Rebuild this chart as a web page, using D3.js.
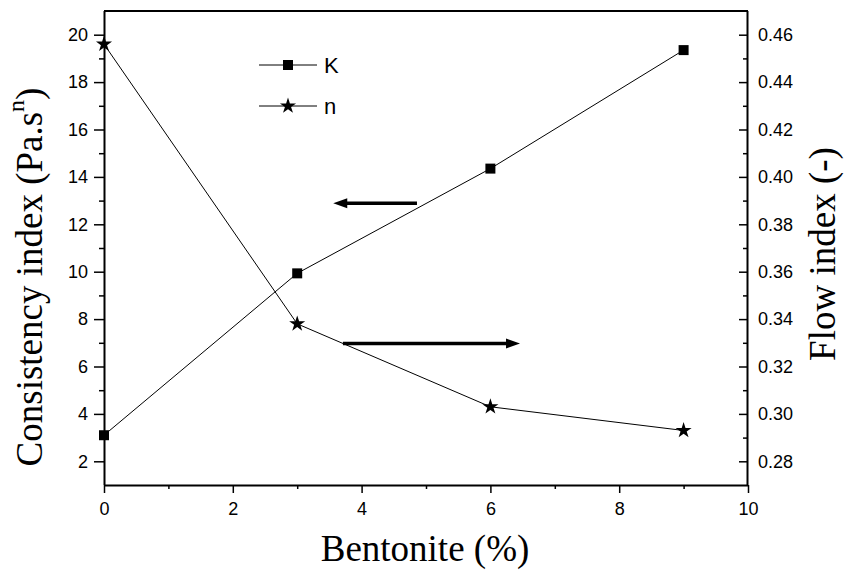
<!DOCTYPE html>
<html>
<head>
<meta charset="utf-8">
<script src="https://cdn.jsdelivr.net/npm/d3@7"></script>
<style>
  html, body { margin: 0; padding: 0; background: #fff; }
  svg { display: block; }
</style>
</head>
<body>
<svg id="chart" width="845" height="571"></svg>
<script>
// ---- data ----
const bentonite = [0, 3, 6, 9];
const kValues = [3.1, 9.93, 14.35, 19.35];
const nValues = [0.456, 0.338, 0.303, 0.293];
const xTicks = [0, 2, 4, 6, 8, 10];
const kTicks = [2, 4, 6, 8, 10, 12, 14, 16, 18, 20];
const nTicks = [0.28, 0.30, 0.32, 0.34, 0.36, 0.38, 0.40, 0.42, 0.44, 0.46];
const seriesNames = ["K", "n"];
// annotation arrows in data units
const arrows = [
  { x1: 4.86, x2: 3.56, v: 12.89, axis: "K" },
  { x1: 3.71, x2: 6.46, v: 0.3297, axis: "n" }
];

const svg = d3.select("#chart");
const L = 104, R = 748, T = 11, B = 485;

const x = d3.scaleLinear().domain([0, 10]).range([L, R]);
const yK = d3.scaleLinear().domain([1, 21]).range([B, T]);
const yN = d3.scaleLinear().domain([0.27, 0.47]).range([B, T]);

const tickFont = "'Liberation Sans', Arial, sans-serif";
const titleFont = "'Liberation Serif', 'Times New Roman', serif";

// ---- data lines ----
const lineK = d3.line().x((d, i) => x(bentonite[i])).y(d => yK(d));
const lineN = d3.line().x((d, i) => x(bentonite[i])).y(d => yN(d));
svg.append("path").attr("d", lineK(kValues)).attr("fill", "none").attr("stroke", "#000").attr("stroke-width", 1);
svg.append("path").attr("d", lineN(nValues)).attr("fill", "none").attr("stroke", "#000").attr("stroke-width", 1);

const sq = d3.symbol().type(d3.symbolSquare).size(100);
const star = d3.symbol().type(d3.symbolStar).size(80);

svg.selectAll(".kpt").data(kValues).join("path")
  .attr("transform", (d, i) => `translate(${x(bentonite[i])},${yK(d)})`)
  .attr("d", sq).attr("fill", "#000");
svg.selectAll(".npt").data(nValues).join("path")
  .attr("transform", (d, i) => `translate(${x(bentonite[i])},${yN(d)})`)
  .attr("d", star).attr("fill", "#000");

// ---- axes ----
svg.append("line").attr("x1", L).attr("x2", R).attr("y1", T).attr("y2", T).attr("stroke", "#000").attr("stroke-width", 2);

// bottom
const gx = svg.append("g").attr("transform", `translate(0,${B})`)
  .call(d3.axisBottom(x).tickValues(xTicks).tickSize(8).tickPadding(9).tickFormat(d3.format("d")));
svg.append("g").attr("transform", `translate(0,${B})`)
  .call(d3.axisBottom(x).tickValues([1, 3, 5, 7, 9]).tickSize(4).tickFormat(""))
  .select(".domain").remove();

// left
const gl = svg.append("g").attr("transform", `translate(${L},0)`)
  .call(d3.axisLeft(yK).tickValues(kTicks).tickSize(10).tickPadding(6).tickFormat(d3.format("d")));
svg.append("g").attr("transform", `translate(${L},0)`)
  .call(d3.axisLeft(yK).tickValues([3, 5, 7, 9, 11, 13, 15, 17, 19]).tickSize(5).tickFormat(""))
  .select(".domain").remove();

// right (inward ticks)
const gr = svg.append("g").attr("transform", `translate(${R},0)`)
  .call(d3.axisRight(yN).tickValues(nTicks).tickSize(0).tickPadding(10).tickFormat(d3.format(".2f")));
gr.selectAll(".tick line").remove();
svg.append("g").attr("transform", `translate(${R},0)`)
  .call(d3.axisLeft(yN).tickValues(nTicks).tickSize(9).tickFormat(""))
  .select(".domain").remove();
svg.append("g").attr("transform", `translate(${R},0)`)
  .call(d3.axisLeft(yN).tickValues([0.29, 0.31, 0.33, 0.35, 0.37, 0.39, 0.41, 0.43, 0.45]).tickSize(5).tickFormat(""))
  .select(".domain").remove();

svg.selectAll(".domain").attr("stroke-width", 2);
gx.select(".domain").attr("d", `M${L},0.5H${R}`);
gl.select(".domain").attr("d", `M0.5,${T}V${B}`);
gr.select(".domain").attr("d", `M-0.5,${T}V${B}`);
svg.selectAll(".tick line").attr("stroke-width", 1.5);
svg.selectAll(".tick text").attr("font-family", tickFont).attr("font-size", 18).attr("fill", "#000");

// ---- arrows ----
arrows.forEach(a => {
  const yS = a.axis === "K" ? yK : yN;
  const x1 = x(a.x1), x2 = x(a.x2), yy = yS(a.v);
  const dir = Math.sign(x2 - x1);
  const hl = 14, hw = 5;
  svg.append("line").attr("x1", x1).attr("x2", x2 - dir * hl + dir * 1).attr("y1", yy).attr("y2", yy)
    .attr("stroke", "#000").attr("stroke-width", 3.5);
  svg.append("path")
    .attr("d", `M${x2},${yy}L${x2 - dir * hl},${yy - hw}L${x2 - dir * hl},${yy + hw}Z`)
    .attr("fill", "#000");
});

// ---- legend ----
const legend = svg.append("g");
const legY = [65, 106];
seriesNames.forEach((name, i) => {
  const g = legend.append("g").attr("transform", `translate(0,${legY[i]})`);
  g.append("line").attr("x1", 259).attr("x2", 317).attr("y1", 0).attr("y2", 0).attr("stroke", "#000").attr("stroke-width", 1);
  g.append("path").attr("transform", "translate(288,0)").attr("d", i === 0 ? sq : star).attr("fill", "#000");
  g.append("text").attr("x", 324).attr("y", 8).text(name)
    .attr("font-family", tickFont).attr("font-size", 22).attr("fill", "#000");
});

// ---- titles ----
svg.append("text").attr("x", 425).attr("y", 561).attr("text-anchor", "middle")
  .attr("font-family", titleFont).attr("font-size", 37).attr("fill", "#000")
  .text("Bentonite (%)");

const lt = svg.append("text").attr("transform", "translate(42,277) rotate(-90)")
  .attr("text-anchor", "middle")
  .attr("font-family", titleFont).attr("font-size", 37).attr("fill", "#000");
lt.append("tspan").text("Consistency index (Pa.s");
lt.append("tspan").attr("dy", -18).attr("font-size", 24).text("n");
lt.append("tspan").attr("dy", 18).text(")");

svg.append("text").attr("transform", "translate(835,254) rotate(-90)")
  .attr("text-anchor", "middle")
  .attr("font-family", titleFont).attr("font-size", 37).attr("fill", "#000")
  .text("Flow index (-)");
</script>
</body>
</html>
